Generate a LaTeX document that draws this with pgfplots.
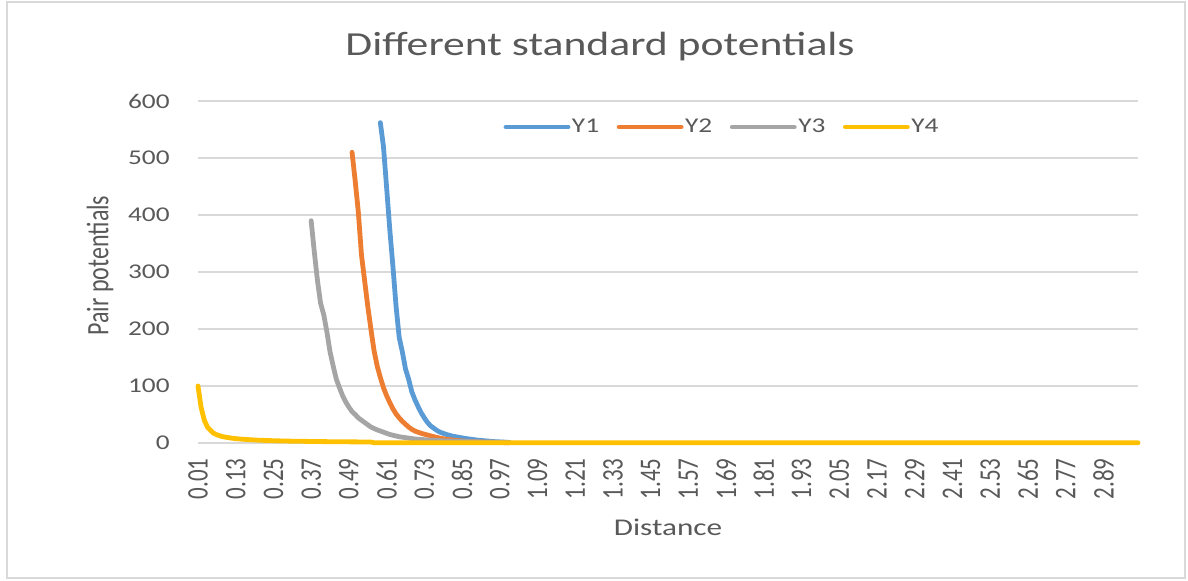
\documentclass[border=0pt]{standalone}
\usepackage{fontspec}
\setmainfont{Carlito}
\usepackage{graphicx}
\usepackage{pgfplots}
\pgfplotsset{compat=1.18}
\definecolor{txt}{HTML}{595959}
\definecolor{gridc}{HTML}{D9D9D9}
\definecolor{s1}{HTML}{5B9BD5}
\definecolor{s2}{HTML}{ED7D31}
\definecolor{s3}{HTML}{A5A5A5}
\definecolor{s4}{HTML}{FFC000}
% widened / heightened text boxes
\newcommand{\hs}[1]{\scalebox{1.3}[1]{#1}}
\newcommand{\vs}[1]{\scalebox{1}[1.3]{#1}}

\begin{document}
\begin{tikzpicture}
\useasboundingbox (-99pt,-68.5pt) rectangle (495pt,221.5pt);
\draw[gridc, line width=0.9pt] (-95.5pt,-67.5pt) rectangle (493.5pt,220.5pt);
\begin{axis}[
  at={(0pt,0pt)}, anchor=south west,
  scale only axis, width=470pt, height=171pt,
  xmin=0.01, xmax=3.00, ymin=0, ymax=600,
  clip=false,
  axis line style={draw=none},
  major tick length=0pt,
  ymajorgrids, grid style={gridc, line width=0.75pt},
  ytick={0,100,200,300,400,500,600},
  xtick={0.01,0.13,0.25,0.37,0.49,0.61,0.73,0.85,0.97,1.09,1.21,1.33,1.45,1.57,1.69,1.81,1.93,2.05,2.17,2.29,2.41,2.53,2.65,2.77,2.89},
  /pgf/number format/assume math mode=true,
  xticklabel={\vs{\pgfmathprintnumber[fixed,fixed zerofill,precision=2]{\tick}}},
  yticklabel={\hs{\pgfmathprintnumber{\tick}}},
  xticklabel style={rotate=90, anchor=east, inner xsep=7.5pt, inner ysep=0pt,
    font=\fontsize{11.5}{13}\selectfont, text=txt},
  yticklabel style={anchor=east, inner xsep=14pt, inner ysep=0pt,
    font=\fontsize{10.5}{12}\selectfont, text=txt},
  every axis title shift=0pt,
  title={\hs{Different standard potentials}},
  title style={at={(0.4277,1.158)}, anchor=center,
    font=\fontsize{16.8}{20}\selectfont, text=txt},
  xlabel={\hs{Distance}},
  xlabel style={at={(0.5,-0.2456)}, anchor=center,
    font=\fontsize{12}{14}\selectfont, text=txt},
  ylabel={\vs{Pair potentials}},
  ylabel style={at={(-0.1043,0.519)}, anchor=center,
    font=\fontsize{12}{14}\selectfont, text=txt},
  legend columns=4,
  legend style={at={(0.5573,0.924)}, anchor=center, draw=none, fill=none,
    font=\fontsize{10.5}{12}\selectfont, text=txt, nodes={inner sep=0.8pt},
    /tikz/every even column/.append style={column sep=8pt}},
  legend image code/.code={\draw[#1, line cap=round] (0pt,0pt) -- (31pt,0pt);},
  every axis plot/.append style={line width=2.4pt, line join=round, line cap=round},
]
% Y1
\addplot[s1] coordinates {
(0.59,562) (0.60,520) (0.61,448) (0.62,375) (0.63,310) (0.64,240) (0.65,185)
(0.66,160) (0.67,130) (0.68,112) (0.69,90) (0.70,76) (0.71,64) (0.72,53)
(0.73,44) (0.74,36) (0.75,30) (0.76,26) (0.77,22) (0.78,19) (0.79,17)
(0.80,15) (0.82,12) (0.84,10) (0.86,8) (0.88,6.5) (0.90,5) (0.92,4)
(0.95,2.5) (1.00,1)};
\addlegendentry{\hs{Y1}}
% Y2
\addplot[s2] coordinates {
(0.50,510) (0.51,460) (0.52,405) (0.53,330) (0.54,285) (0.55,240) (0.56,200)
(0.57,162) (0.58,135) (0.59,115) (0.60,97) (0.61,83) (0.62,71) (0.63,60)
(0.64,51) (0.65,44) (0.66,38) (0.67,33) (0.68,28) (0.69,24) (0.70,21)
(0.72,17) (0.74,14) (0.76,11) (0.78,8.5) (0.80,6.5) (0.84,4) (0.88,2.5)
(0.92,1.5) (0.96,1) (1.00,0.5)};
\addlegendentry{\hs{Y2}}
% Y3
\addplot[s3] coordinates {
(0.37,390) (0.38,335) (0.39,285) (0.40,245) (0.41,225) (0.42,195) (0.43,160)
(0.44,135) (0.45,112) (0.46,97) (0.47,83) (0.48,72) (0.49,63) (0.50,55)
(0.51,50) (0.52,44) (0.53,40) (0.54,36) (0.55,32) (0.56,28) (0.58,23)
(0.60,19) (0.62,15) (0.65,11) (0.70,7) (0.75,5) (0.80,3.5) (0.90,2)
(1.00,1)};
\addlegendentry{\hs{Y3}}
% Y4
\addplot[s4] coordinates {
(0.01,100) (0.02,62) (0.03,40) (0.04,28) (0.05,22) (0.06,17) (0.07,14.5)
(0.08,12.5) (0.09,11) (0.10,10) (0.12,8.3) (0.14,7.1) (0.16,6.3) (0.18,5.6)
(0.20,5) (0.25,4) (0.30,3.3) (0.35,2.9) (0.40,2.5) (0.45,2.2) (0.50,2)
(0.56,1.8) (0.57,0.4) (1.00,0.4) (2.00,0.4) (3.00,0.4)};
\addlegendentry{\hs{Y4}}
\end{axis}
\end{tikzpicture}
\end{document}
